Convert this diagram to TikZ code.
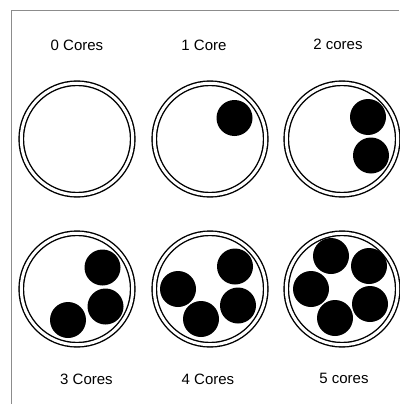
\documentclass[tikz,border=0pt]{standalone}
\usepackage{fontspec}
\setmainfont{Liberation Sans}
\usepackage{xcolor}
\usepackage{tikz}
\usetikzlibrary{calc, backgrounds}

\begin{document}
\begin{tikzpicture}[
    x=1pt, y=-1pt,
    cable/.style={draw, circle, line width=1.4pt, double=white, double distance=3pt, minimum size=111.5pt, inner sep=0pt, outer sep=0pt},
    core/.style={fill=black, circle, minimum size=36pt, inner sep=0pt},
    corelabel/.style={font=\fontsize{15}{18}\selectfont, inner sep=0pt, anchor=base},
    frameline/.style={draw=black!45, line width=0.8pt}
]

\fill[white] (0,0) rectangle (399,404);
\useasboundingbox (0,0) rectangle (399,404);

% Frame
\coordinate (ftop) at (399,10);
\coordinate (fcorner) at (11,10);
\coordinate (fbottom) at (11,404);
\draw[frameline] (ftop) -- (fcorner) -- (fbottom);

% Cables
\node (c0) [cable] at (77,139) {};
\node (c1) [cable] at (210,139) {};
\node (c2) [cable] at (342,139) {};
\node (c3) [cable] at (77,289) {};
\node (c4) [cable] at (210,289) {};
\node (c5) [cable] at (342,289) {};

% Cores
\node (c1a) [core] at ($(c1)+(24.5,-21)$) {};

\node (c2a) [core] at ($(c2)+(26,-22)$) {};
\node (c2b) [core] at ($(c2)+(29,16.5)$) {};

\node (c3a) [core] at ($(c3)+(25.5,-21.5)$) {};
\node (c3b) [core] at ($(c3)+(28.5,17.5)$) {};
\node (c3c) [core] at ($(c3)+(-9,31)$) {};

\node (c4a) [core] at ($(c4)+(25,-22.5)$) {};
\node (c4b) [core] at ($(c4)+(28,16.5)$) {};
\node (c4c) [core] at ($(c4)+(-9,30)$) {};
\node (c4d) [core] at ($(c4)+(-32,0)$) {};

\node (c5a) [core] at ($(c5)+(-11,-33)$) {};
\node (c5b) [core] at ($(c5)+(27,-23)$) {};
\node (c5c) [core] at ($(c5)+(28,15)$) {};
\node (c5d) [core] at ($(c5)+(-7,29)$) {};
\node (c5e) [core] at ($(c5)+(-31,0)$) {};

% Labels
\node (l0) [corelabel] at (77,50.5) {0 Cores};
\node (l1) [corelabel] at (204,50.5) {1 Core};
\node (l2) [corelabel] at (338,49.5) {2 cores};
\node (l3) [corelabel] at (86.5,384) {3 Cores};
\node (l4) [corelabel] at (208,384) {4 Cores};
\node (l5) [corelabel] at (344,383) {5 cores};

\end{tikzpicture}
\end{document}
